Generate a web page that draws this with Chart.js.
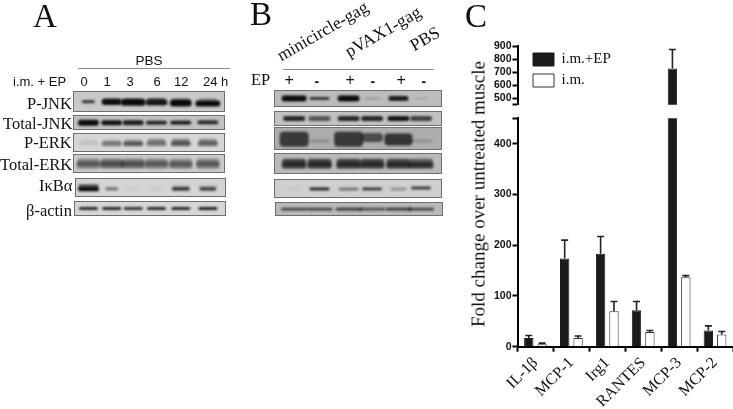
<!DOCTYPE html>
<html><head><meta charset="utf-8">
<script src="https://cdn.jsdelivr.net/npm/chart.js@4/dist/chart.umd.js"></script>
<style>
html,body{margin:0;padding:0;background:#fff;width:733px;height:409px;overflow:hidden}
#page{position:relative;width:733px;height:409px;filter:blur(.35px)}
.t{position:absolute;white-space:nowrap;line-height:1;color:#111}
.serif{font-family:"Liberation Serif",serif}
.sans{font-family:"Liberation Sans",sans-serif}
.rule{position:absolute;height:1px;background:#8a8a8a}
.strip{position:absolute;box-sizing:border-box;border:1px solid #6e6e6e;overflow:hidden}
canvas{display:block;position:absolute}
</style></head><body><div id="page"></div>
<script>
/* ---------- Panel C data ---------- */
const cytokines=["IL-1β","MCP-1","Irg1","RANTES","MCP-3","MCP-2"];
const epValues=[17,174,183,72,728,32];
const epErrorTops=[22,210,217,89,873,41];
const imValues=[5,17,70,29,137,24];
const imErrorTops=[7,21,89,32,140,30];
const lowerTicks=[0,100,200,300,400,450];
const upperTicks=[450,500,600,700,800,900];
const axisBreak=450, axisTop=900;

/* ---------- Panel A blot band densities (lanes 0,1,3,6,12,24 h) ---------- */
const timeLabels=["0","1","3","6","12","24 h"];
const aPJnkUpper=[0,.4,.25,.55,.3,.35];
const aPJnkLower=[.8,1,1,.95,1,1];
const aTotalJnk=[1,.95,.9,.85,.9,.85];
const aPErkUpper=[.04,.08,.14,.32,.35,.3];
const aPErkLower=[.08,.45,.6,.45,.6,.55];
const aTotalErkUpper=[.36,.42,.4,.36,.3,.36];
const aTotalErkLower=[.42,.48,.48,.42,.45,.42];
const aIkbUpper=[.8,0,0,0,.1,.1];
const aIkbLower=[1,.5,.04,.05,.75,.7];
const aActin=[.85,.85,.8,.85,.85,.9];

/* ---------- Panel B blot band densities (+ - + - + -) ---------- */
const epSigns=["+","-","+","-","+","-"];
const bPJnk=[1,.75,1,.2,.9,.12];
const bTotalJnk=[.85,.6,.85,.85,.95,.7];
const bPErk=[.72,.22,.72,.6,.75,.18];
const bTotalErkUpper=[.68,.68,.68,.68,.65,.55];
const bTotalErkLower=[.75,.75,.75,.75,.75,.75];
const bIkb=[.04,.85,.45,.75,.3,.75];
const bActin=[.65,.65,.7,.6,.7,.65];

/* ---------- Layout ---------- */
const page=document.getElementById('page');
Chart.defaults.animation=false;
Chart.defaults.events=[];
const lanesA=[84,109,132,157,183,212];
const lanesB=[290,317,348,373,401,425];

function text(s,x,y,cls,size,extra){
  const e=document.createElement('div');e.className='t '+cls;e.textContent=s;
  e.style.left=x+'px';e.style.top=y+'px';e.style.fontSize=size+'px';
  if(extra)Object.assign(e.style,extra);page.appendChild(e);return e;
}
function rightText(s,right,y,cls,size){const e=text(s,0,y,cls,size);e.style.left=(right-e.offsetWidth)+'px';return e;}
function centerText(s,cx,y,cls,size,extra){const e=text(s,0,y,cls,size,extra);e.style.left=(cx-e.offsetWidth/2)+'px';return e;}
function rule(x,y,w){const e=document.createElement('div');e.className='rule';e.style.left=x+'px';e.style.top=y+'px';e.style.width=w+'px';page.appendChild(e);}

function sprite(p){
  const pad=5,c=document.createElement('canvas');
  c.width=p.w+pad*2;c.height=p.h+pad*2;
  const g=c.getContext('2d');g.filter='blur('+p.blur+'px)';
  g.fillStyle='rgba(12,12,12,'+p.a+')';
  g.beginPath();g.roundRect(pad,pad,p.w,p.h,Math.min(p.h/2,4));g.fill();
  return c;
}
/* one chart per blot strip: x = lane position, y = height inside the strip */
function strip(box,lanes,bands){
  const d=document.createElement('div');d.className='strip';
  Object.assign(d.style,{left:box.x+'px',top:box.y+'px',width:box.w+'px',height:box.h+'px',background:box.bg});
  const c=document.createElement('canvas');c.width=box.w-2;c.height=box.h-2;d.appendChild(c);page.appendChild(d);
  const datasets=bands.map(b=>({
    data:b.values.map((v,i)=>({x:lanes[i]-box.x-1,
      y:(b.ys?b.ys[i]:b.y)*(box.h-2),a:v,
      w:b.ws?b.ws[i]:b.w,h:b.hs?b.hs[i]:b.h,blur:b.blur||.9})).filter(p=>p.a>0),
    pointRadius:4,pointStyle:ctx=>sprite(ctx.raw),clip:false
  }));
  new Chart(c,{type:'scatter',data:{datasets},options:{responsive:false,
    layout:{padding:0},plugins:{legend:{display:false},tooltip:{enabled:false}},
    scales:{x:{display:false,min:0,max:box.w-2},y:{display:false,min:0,max:box.h-2,reverse:true}}}});
}

/* Panel A */
text("A",33,0,'serif',33);
centerText("PBS",149,54,'sans',13.5);
rule(78,68,152);
text("i.m. + EP",13,75,'sans',13);
timeLabels.forEach((s,i)=>{const cx=[84,107,130,157,181,0][i];
  if(i<5)centerText(s,cx,75,'sans',13);else text(s,203,75,'sans',13);});
[["P-JNK",96],["Total-JNK",116],["P-ERK",135],["Total-ERK",157],["IκBα",178],["β-actin",203]]
  .forEach(([s,y])=>rightText(s,72,y,'serif',16.5));
strip({x:73,y:91,w:152,h:21,bg:'#c9c9c9'},lanesA,[
  {ys:[.3,.28,.3,.28,.3,.32],w:18,h:3,values:aPJnkUpper},
  {ys:[.52,.56,.58,.6,.66,.72],ws:[13,20,25,22,22,25],hs:[3,6,7,6,7,6],values:aPJnkLower}]);
strip({x:73,y:115,w:152,h:15,bg:'#c2c2c2'},lanesA,[
  {ys:[.58,.58,.56,.56,.54,.42],w:21,hs:[6,5,5,4,4,4],values:aTotalJnk}]);
strip({x:73,y:133,w:152,h:19,bg:'#d6d6d6'},lanesA,[
  {y:.22,w:18,h:4,values:aPErkUpper},{y:.66,w:20,h:5,values:aPErkLower}]);
strip({x:73,y:154,w:152,h:19,bg:'#cbcbcb'},lanesA,[
  {y:.28,w:23,h:7,values:aTotalErkUpper},{y:.72,w:24,h:7,values:aTotalErkLower}]);
strip({x:75,y:178,w:151,h:19,bg:'#d4d4d4'},lanesA,[
  {y:.22,w:20,h:2,values:aIkbUpper},{y:.68,ws:[21,13,14,14,18,17],hs:[5,3,3,3,4,4],values:aIkbLower}]);
strip({x:74,y:201,w:152,h:15,bg:'#d6d6d6'},lanesA,[{y:.48,w:19,h:3,values:aActin}]);

/* Panel B */
text("B",250,-2,'serif',33);
const bHeads=[["minicircle-gag",283,47],["pVAX1-gag",351,43],["PBS",416,37]];
bHeads.forEach(([s,x,y])=>text(s,x,y,'serif',17.5,{transform:'rotate(-30deg)',transformOrigin:'0 100%'}));
rule(283,69,151);
text("EP",251,72,'serif',16.5);
epSigns.forEach((s,i)=>centerText(s,[289,317,350,373,401,424][i],s==='+'?72:74,'sans',s==='+'?16:14,{fontWeight:s==='-'?'bold':'normal'}));
strip({x:274,y:90,w:168,h:17,bg:'#bcbcbc'},lanesB,[
  {y:.48,ws:[25,20,22,16,20,12],hs:[6,3,6,2,5,2],values:bPJnk}]);
strip({x:274,y:111,w:168,h:15,bg:'#c2c2c2'},lanesB,[{y:.52,w:22,h:5,values:bTotalJnk}]);
strip({x:274,y:127,w:168,h:23,bg:'#adadad'},lanesB,[
  {ys:[.56,.72,.56,.42,.58,.72],ws:[29,20,29,22,28,22],hs:[15,3,15,9,12,3],values:bPErk,blur:1.1}]);
strip({x:274,y:153,w:168,h:21,bg:'#bababa'},lanesB,[
  {y:.3,w:24,h:6,values:bTotalErkUpper},{y:.72,w:25,h:6,values:bTotalErkLower}]);
strip({x:274,y:179,w:168,h:19,bg:'#cfcfcf'},lanesB,[
  {ys:[.6,.56,.58,.56,.58,.42],ws:[14,20,20,20,16,20],h:3,values:bIkb}]);
strip({x:275,y:202,w:168,h:14,bg:'#b9b9b9'},lanesB,[{y:.55,w:26,h:3,values:bActin}]);

/* Panel C */
text("C",465,0,'serif',33);
const errorBars={id:'errorBars',afterDatasetsDraw(chart){
  const ctx=chart.ctx,sc=chart.scales.y;
  chart.data.datasets.forEach((ds,k)=>{
    chart.getDatasetMeta(k).data.forEach((el,i)=>{
      const v=ds.data[i],top=ds.errorTops[i];
      if(v===null||v>sc.max||top>sc.max&&v<sc.min)return;
      const x=el.x,y0=sc.getPixelForValue(v),y1=sc.getPixelForValue(top);
      ctx.save();ctx.strokeStyle='#222';ctx.lineWidth=1.6;ctx.beginPath();
      ctx.moveTo(x,y0);ctx.lineTo(x,y1);ctx.moveTo(x-3.5,y1);ctx.lineTo(x+3.5,y1);ctx.stroke();ctx.restore();
    });
  });
}};
/* the legend box is moved as a whole, so its height still fits both entries */
const legendShift={id:'legendShift',afterLayout(chart){const l=chart.legend;l.left+=9.5;l.right+=9.5;l.top+=10;l.bottom+=10;}};
function barDatasets(keep){return [
  {label:'i.m.+EP',data:epValues.map(keep),errorTops:epErrorTops,backgroundColor:'#1b1b1b',borderColor:'#1b1b1b',borderWidth:1,categoryPercentage:.745,barPercentage:.7},
  {label:'i.m.',data:imValues.map(keep),errorTops:imErrorTops,backgroundColor:'#fff',borderColor:'#333',borderWidth:1,categoryPercentage:.745,barPercentage:.7}
];}
function yAxis(min,max,ticks,extra){return Object.assign({
  type:'linear',min,max,
  afterBuildTicks:s=>{s.ticks=ticks.map(value=>({value}));},
  afterFit:s=>{s.width=57.5;},
  border:{display:true,color:'#000',width:2},
  grid:{drawOnChartArea:false,drawTicks:true,tickLength:5,tickWidth:2,tickColor:'#000'},
  ticks:{autoSkip:false,padding:1,color:'#111',font:{family:'"Liberation Sans"',size:10.5,weight:'bold'},
    callback:v=>v===axisBreak?'':v}
},extra||{});}
function addCanvas(top,h){const c=document.createElement('canvas');c.width=273;c.height=h;c.style.left='460px';c.style.top=top+'px';page.appendChild(c);return c;}

new Chart(addCanvas(100,309),{type:'bar',data:{labels:cytokines,datasets:barDatasets(v=>v)},plugins:[errorBars],
 options:{responsive:false,layout:{padding:{top:18.3,right:0,left:0,bottom:0}},
  plugins:{legend:{display:false},tooltip:{enabled:false}},
  scales:{
   x:{afterFit:s=>{s.height=62.3;},border:{display:true,color:'#000',width:2},
      grid:{drawOnChartArea:false,tickLength:5,tickWidth:2,tickColor:'#000'},
      ticks:{autoSkip:false,minRotation:45,maxRotation:45,padding:2,color:'#111',font:{family:'"Liberation Serif"',size:16}}},
   y:yAxis(0,axisBreak,lowerTicks)
  }}});
new Chart(addCanvas(36,76),{type:'bar',data:{labels:cytokines,datasets:barDatasets(v=>v>=axisBreak?v:null)},plugins:[errorBars,legendShift],
 options:{responsive:false,layout:{padding:{top:10,bottom:3.7,left:0,right:0}},
  plugins:{tooltip:{enabled:false},legend:{position:'chartArea',align:'start',
    labels:{boxWidth:21,boxHeight:13,padding:6,color:'#111',font:{family:'"Liberation Serif"',size:15}}}},
  scales:{x:{display:false},y:yAxis(axisBreak,axisTop,upperTicks)}}});
text("Fold change over untreated muscle",478,194,'serif',19,{transform:'translate(-50%,-50%) rotate(-90deg)'});
</script></body></html>
